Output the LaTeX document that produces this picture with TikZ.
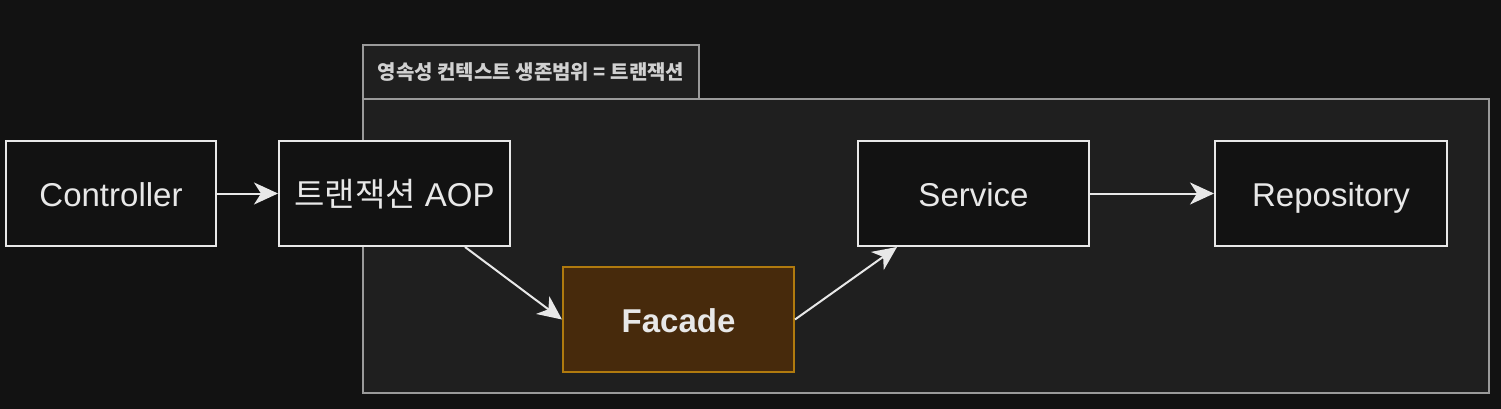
\documentclass[tikz,border=0pt]{standalone}
\usepackage{fontspec}
\setmainfont{Liberation Sans}
\newfontfamily\kor{Noto Sans CJK KR}
\usepackage{tikz}
\usetikzlibrary{arrows.meta}
\usetikzlibrary{positioning}

\definecolor{bgdark}{HTML}{121212}
\definecolor{scopefill}{HTML}{1F1F1F}
\definecolor{scopeline}{HTML}{9A9A9A}
\definecolor{boxline}{HTML}{E8E8E8}
\definecolor{facadefill}{HTML}{472A0C}
\definecolor{facadeline}{HTML}{B07A0E}

\begin{document}
\begin{tikzpicture}[x=1pt, y=-1pt,
    layer/.style={draw=boxline, fill=bgdark, line width=2pt, text=boxline,
        minimum width=231pt, minimum height=105pt, inner sep=0pt,
        text height=28pt, text depth=2pt,
        font=\fontsize{33}{38}\selectfont},
    callarrow/.style={-{Stealth[length=24pt, width=22pt, inset=7pt]}, draw=boxline, line width=2pt}]

\fill [bgdark] (0,0) rectangle (1501,409);

% persistence context scope
\node[draw=scopeline, fill=scopefill, line width=2pt,
    minimum width=1126pt, minimum height=294pt] (scope) at (926,246) {};
\node[draw=scopeline, fill=scopefill, line width=2pt,
    minimum width=336pt, minimum height=54pt, text=boxline!90!black,
    font=\kor\bfseries\fontsize{20}{24}\selectfont] (scopetab) at (531,72) {영속성 컨텍스트 생존범위 = 트랜잭션};

\node[layer, minimum width=210pt] (controller) at (111,193.5) {Controller};
\node[layer] (aop) at (394.5,193.5) {{\kor 트랜잭션} AOP};
\node[layer, draw=facadeline, fill=facadefill, font=\bfseries\fontsize{33}{38}\selectfont] (facade) at (678.5,319.5) {Facade};
\node[layer] (service) at (973.5,193.5) {Service};
\node[layer, minimum width=232pt] (repository) at (1331,193.5) {Repository};

\draw [callarrow] (controller) -- (aop);
\draw [callarrow] ([xshift=70.5pt]aop.south) -- (facade.west);
\draw [callarrow] (facade.east) -- ([xshift=-76.5pt]service.south);
\draw [callarrow] (service) -- (repository);

\end{tikzpicture}
\end{document}
